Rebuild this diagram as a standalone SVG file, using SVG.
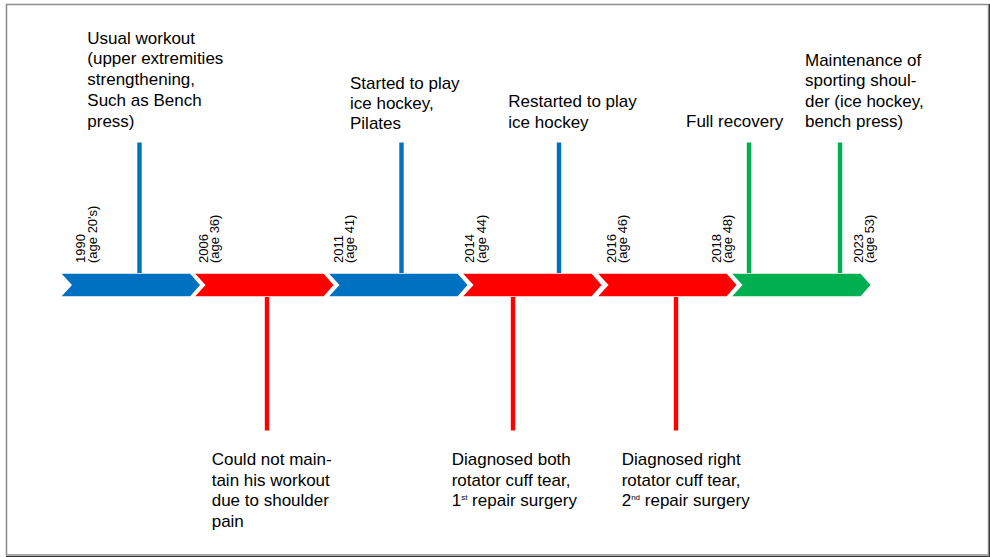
<svg xmlns="http://www.w3.org/2000/svg" width="990" height="557" viewBox="0 0 990 557">
<defs>
<style>
text{font-family:"Liberation Sans",Arial,sans-serif;fill:#000;}
.lbl{font-size:17px;}
.yr{font-size:13px;}
.sup{font-size:8px;}
.chev{stroke:#fff;stroke-width:1.5;}
.blue{fill:#0070C0;}
.red{fill:#FF0000;}
.green{fill:#00B050;}
.ln{stroke-width:4.4;fill:none;}
.lb{stroke:#0070C0;}
.lr{stroke:#FF0000;}
.lg{stroke:#00B050;}
</style>
<polygon id="chev" points="0,273 130.5,273 141,285 130.5,297 0,297 11,285"/>
</defs>
<rect width="990" height="557" fill="#fff"/>
<rect x="6.5" y="4.5" width="982" height="550.5" fill="none" stroke="#8c8c8c" stroke-width="1.5"/>
<line x1="989.5" y1="4" x2="989.5" y2="557" stroke="#3a3a3a" stroke-width="1"/>
<line x1="6" y1="556.5" x2="990" y2="556.5" stroke="#3a3a3a" stroke-width="1"/>

<g id="timeline">
<use href="#chev" x="60" class="chev blue"/>
<use href="#chev" x="193.5" class="chev red"/>
<use href="#chev" x="327.5" class="chev blue"/>
<use href="#chev" x="461.5" class="chev red"/>
<use href="#chev" x="596.5" class="chev red"/>
<use href="#chev" x="730.5" class="chev green"/>
</g>

<g id="connectors">
<line class="ln lb" x1="139.5" y1="142.5" x2="139.5" y2="273"/>
<line class="ln lb" x1="401.5" y1="142.5" x2="401.5" y2="273"/>
<line class="ln lb" x1="559" y1="142.5" x2="559" y2="273"/>
<line class="ln lg" x1="749" y1="142.5" x2="749" y2="273"/>
<line class="ln lg" x1="840" y1="142.5" x2="840" y2="273"/>
<line class="ln lr" x1="267" y1="297" x2="267" y2="430.5"/>
<line class="ln lr" x1="513" y1="297" x2="513" y2="430.5"/>
<line class="ln lr" x1="676" y1="297" x2="676" y2="430.5"/>
</g>

<g id="years">
<text class="yr" transform="translate(85.3,263) rotate(-90)"><tspan x="0" y="0">1990</tspan><tspan x="0" y="11.3">(age 20's)</tspan></text>
<text class="yr" transform="translate(207.5,263) rotate(-90)"><tspan x="0" y="0">2006</tspan><tspan x="0" y="11.3">(age 36)</tspan></text>
<text class="yr" transform="translate(342.5,263) rotate(-90)"><tspan x="0" y="0">2011</tspan><tspan x="0" y="11.3">(age 41)</tspan></text>
<text class="yr" transform="translate(474.3,263) rotate(-90)"><tspan x="0" y="0">2014</tspan><tspan x="0" y="11.3">(age 44)</tspan></text>
<text class="yr" transform="translate(616,263) rotate(-90)"><tspan x="0" y="0">2016</tspan><tspan x="0" y="11.3">(age 46)</tspan></text>
<text class="yr" transform="translate(721,263) rotate(-90)"><tspan x="0" y="0">2018</tspan><tspan x="0" y="11.3">(age 48)</tspan></text>
<text class="yr" transform="translate(862.5,263) rotate(-90)"><tspan x="0" y="0">2023</tspan><tspan x="0" y="11.3">(age 53)</tspan></text>
</g>

<g id="n1990">
<text class="lbl"><tspan x="87.3" y="43.5">Usual workout</tspan><tspan x="87.3" y="64.3">(upper extremities</tspan><tspan x="87.3" y="85.1">strengthening,</tspan><tspan x="87.3" y="105.9">Such as Bench</tspan><tspan x="87.3" y="126.7">press)</tspan></text>
</g>
<g id="n2006">
<text class="lbl"><tspan x="211.7" y="465">Could not main-</tspan><tspan x="211.7" y="485.5">tain his workout</tspan><tspan x="211.7" y="506">due to shoulder</tspan><tspan x="211.7" y="526.5">pain</tspan></text>
</g>
<g id="n2011">
<text class="lbl"><tspan x="350" y="88.5">Started to play</tspan><tspan x="350" y="108.5">ice hockey,</tspan><tspan x="350" y="128.5">Pilates</tspan></text>
</g>
<g id="n2014a">
<text class="lbl"><tspan x="451.7" y="465">Diagnosed both</tspan><tspan x="451.7" y="485.5">rotator cuff tear,</tspan><tspan x="451.7" y="506">1<tspan class="sup" dy="-6">st</tspan><tspan dy="6"> repair surgery</tspan></tspan></text>
</g>
<g id="n2014b">
<text class="lbl"><tspan x="508.3" y="107">Restarted to play</tspan><tspan x="508.3" y="127.5">ice hockey</tspan></text>
</g>
<g id="n2016">
<text class="lbl"><tspan x="621.7" y="465">Diagnosed right</tspan><tspan x="621.7" y="485.5">rotator cuff tear,</tspan><tspan x="621.7" y="506">2<tspan class="sup" dy="-6">nd</tspan><tspan dy="6"> repair surgery</tspan></tspan></text>
</g>
<g id="n2018">
<text class="lbl"><tspan x="686" y="127">Full recovery</tspan></text>
</g>
<g id="n2023">
<text class="lbl"><tspan x="805" y="65.5">Maintenance of</tspan><tspan x="805" y="86">sporting shoul-</tspan><tspan x="805" y="106.5">der (ice hockey,</tspan><tspan x="805" y="127">bench press)</tspan></text>
</g>
</svg>
